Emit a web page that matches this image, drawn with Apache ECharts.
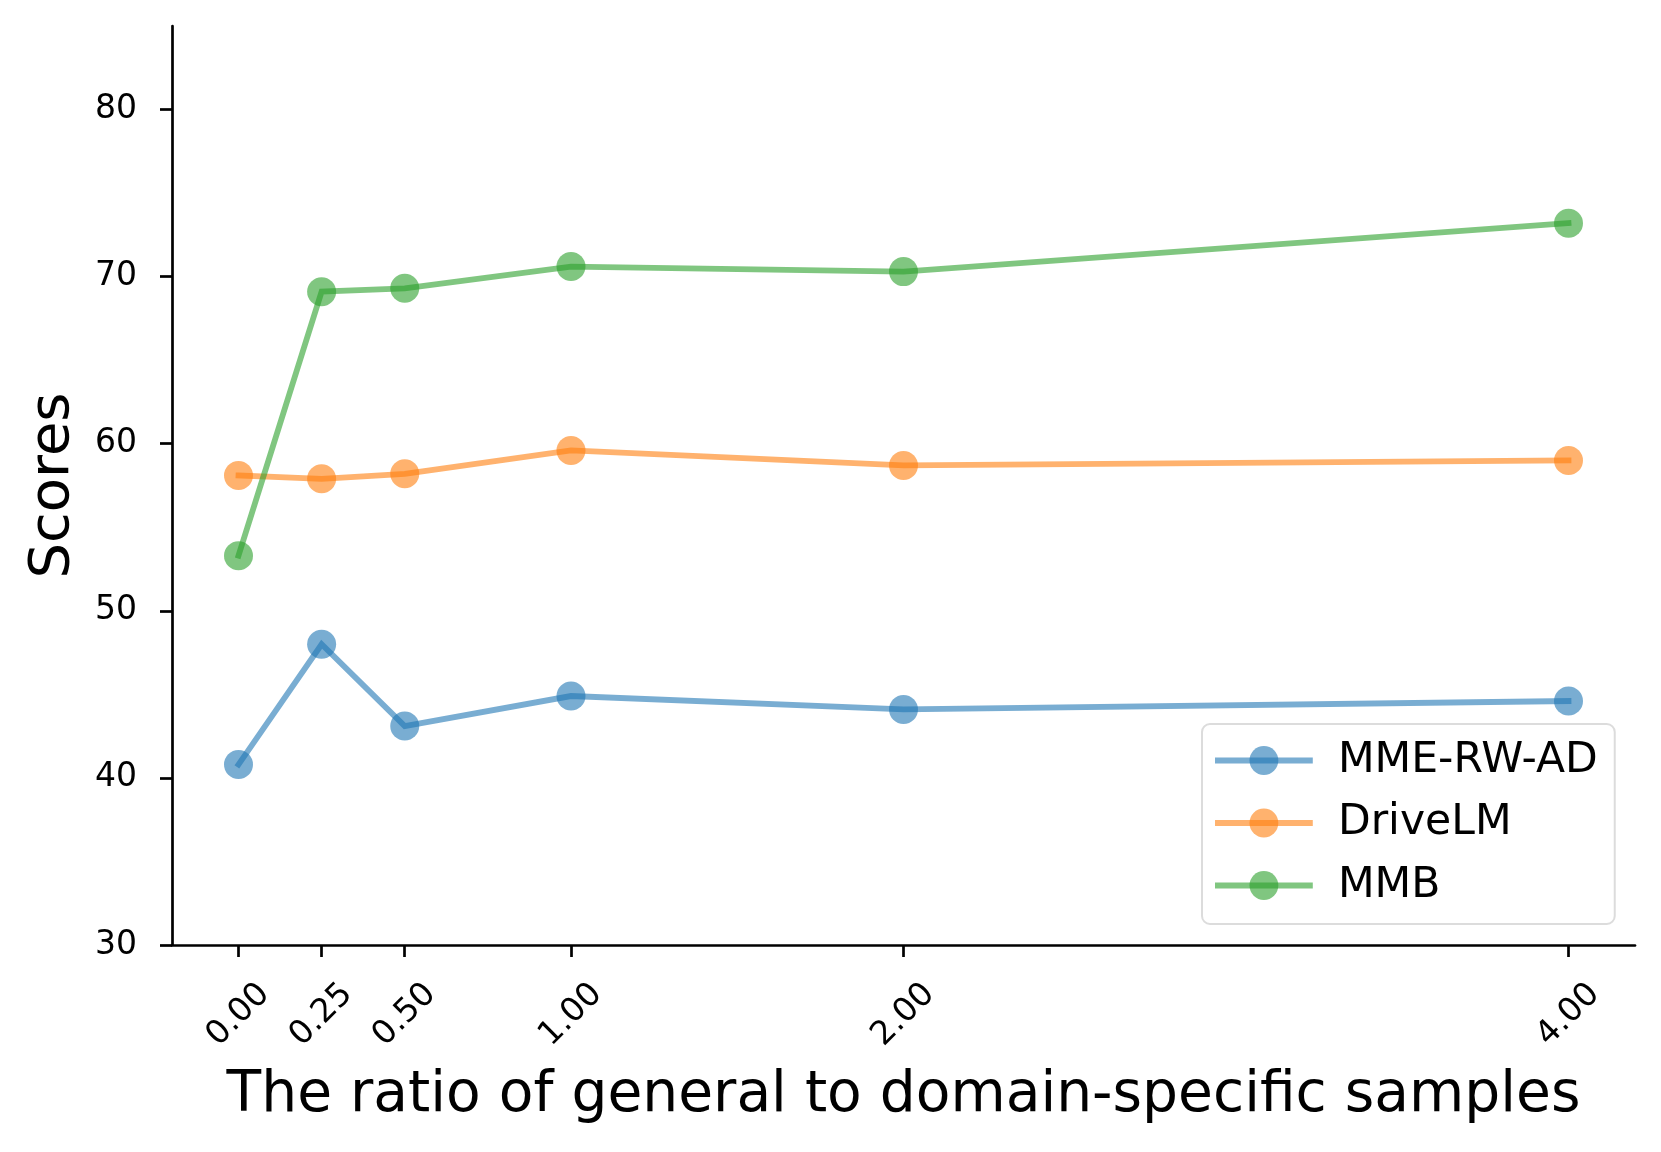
<!DOCTYPE html>
<html>
<head>
<meta charset="utf-8">
<script src="https://cdn.jsdelivr.net/npm/echarts@6/dist/echarts.min.js"></script>
<style>
html,body{margin:0;padding:0;background:#fff;}
#chart{width:1661px;height:1152px;}
</style>
</head>
<body>
<div id="chart"></div>
<script>
var ratios = [0.00, 0.25, 0.50, 1.00, 2.00, 4.00];
var seriesNames = ['MME-RW-AD', 'DriveLM', 'MMB'];
var mmeRwAd = [40.8, 48.0, 43.1, 44.9, 44.1, 44.6];
var driveLM = [58.1, 57.9, 58.2, 59.6, 58.7, 59.0];
var mmb = [53.3, 69.1, 69.3, 70.6, 70.3, 73.2];
var yTicks = [30, 40, 50, 60, 70, 80];
var colors = ['#1f77b4', '#ff7f0e', '#2ca02c'];
var values = [mmeRwAd, driveLM, mmb];

var FONT = 'DejaVu Sans';

function mk(i) {
  return {
    name: seriesNames[i],
    type: 'line',
    data: ratios.map(function (x, k) { return [x, values[i][k]]; }),
    symbol: 'circle',
    symbolSize: 29,
    color: colors[i],
    lineStyle: { width: 5.8, color: colors[i], opacity: 0.6, cap: 'square', join: 'miter' },
    itemStyle: { color: colors[i], opacity: 0.6 },
    emphasis: { disabled: true },
    animation: false,
    z: 2 + i
  };
}

var chart = echarts.init(document.getElementById('chart'), null, { renderer: 'canvas' });
chart.setOption({
  backgroundColor: '#ffffff',
  animation: false,
  textStyle: { fontFamily: FONT },
  grid: { left: 172, right: 26, top: 26, bottom: 207, containLabel: false },
  legend: {
    data: seriesNames,
    orient: 'vertical',
    left: 1202,
    top: 724,
    padding: [15, 17, 17, 13],
    itemWidth: 92,
    itemHeight: 36,
    itemGap: 19.5,
    borderColor: '#dcdcdc',
    borderWidth: 2,
    borderRadius: 8,
    backgroundColor: 'rgba(255,255,255,0.8)',
    lineStyle: { width: 5.8 },
    textStyle: { fontFamily: FONT, fontSize: 42.5, color: '#000', padding: [0, 0, 0, 23] }
  },
  xAxis: {
    type: 'value',
    min: -0.2,
    max: 4.2,
    name: 'The ratio of general to domain-specific samples',
    nameLocation: 'middle',
    nameGap: 123,
    nameTextStyle: { fontFamily: FONT, fontSize: 56.7, color: '#000' },
    axisLine: { show: true, onZero: false, lineStyle: { color: '#000', width: 2.7 } },
    axisTick: { show: true, length: 12, lineStyle: { color: '#000', width: 2.7 }, customValues: ratios },
    axisLabel: {
      customValues: ratios,
      rotate: 45,
      align: 'center',
      verticalAlign: 'middle',
      margin: 70,
      fontFamily: FONT,
      fontSize: 33,
      color: '#000',
      formatter: function (v) { return v.toFixed(2); }
    },
    splitLine: { show: false }
  },
  yAxis: {
    type: 'value',
    min: 30,
    max: 85,
    name: 'Scores',
    nameLocation: 'middle',
    nameGap: 91,
    nameTextStyle: { fontFamily: FONT, fontSize: 56, color: '#000' },
    axisLine: { show: true, onZero: false, lineStyle: { color: '#000', width: 2.7 } },
    axisTick: { show: true, length: 12, lineStyle: { color: '#000', width: 2.7 }, customValues: yTicks },
    axisLabel: {
      customValues: yTicks,
      margin: 35,
      fontFamily: FONT,
      fontSize: 33,
      color: '#000'
    },
    splitLine: { show: false }
  },
  series: [mk(0), mk(1), mk(2)]
});
</script>
</body>
</html>
